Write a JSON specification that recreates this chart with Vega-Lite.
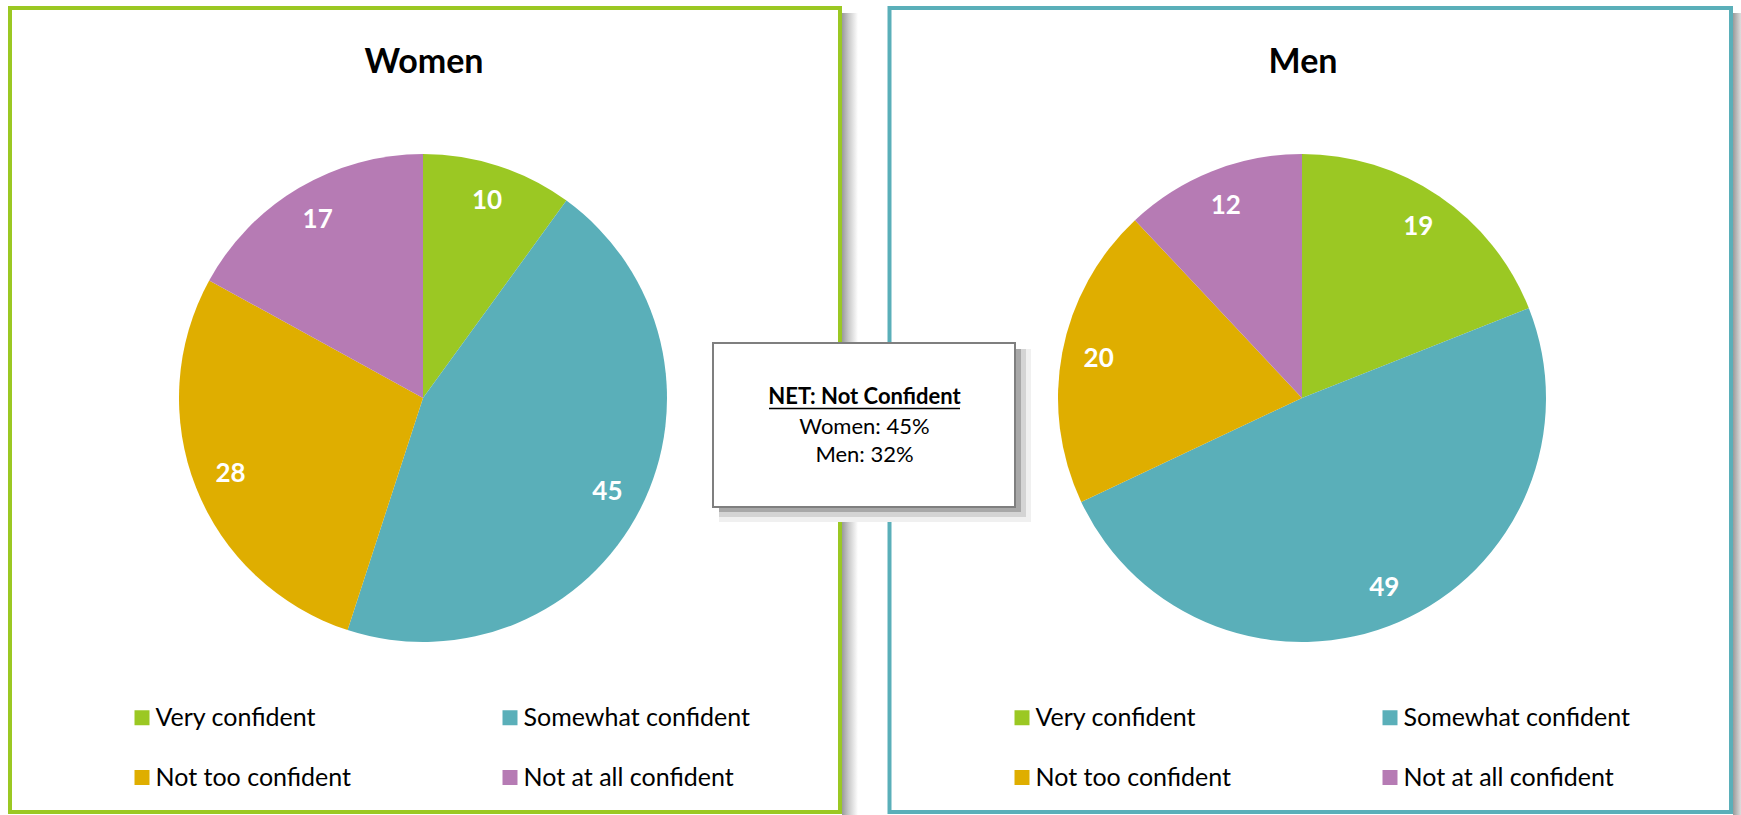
{
  "$schema": "https://vega.github.io/schema/vega-lite/v6.json",
  "width": 1741,
  "height": 815,
  "padding": 0,
  "autosize": {"type": "fit", "contains": "padding"},
  "background": "white",
  "config": {"view": {"stroke": null}, "font": "Lato"},
  "datasets": {
    "pie": [
      {"group": "Women", "category": "Very confident", "k": 1, "value": 10},
      {"group": "Women", "category": "Somewhat confident", "k": 2, "value": 45},
      {"group": "Women", "category": "Not too confident", "k": 3, "value": 28},
      {"group": "Women", "category": "Not at all confident", "k": 4, "value": 17},
      {"group": "Men", "category": "Very confident", "k": 1, "value": 19},
      {"group": "Men", "category": "Somewhat confident", "k": 2, "value": 49},
      {"group": "Men", "category": "Not too confident", "k": 3, "value": 20},
      {"group": "Men", "category": "Not at all confident", "k": 4, "value": 12}
    ],
    "one": [{"id": 1}]
  },
  "data": {"name": "pie"},
  "layer": [
    {
      "data": {"name": "one"},
      "mark": {"type": "rect", "fill": {"gradient": "linear", "x1": 0, "x2": 1, "y1": 0, "y2": 0, "stops": [{"offset": 0, "color": "#9a9a9a"}, {"offset": 0.4, "color": "#c8c8c8"}, {"offset": 1, "color": "#ffffff"}]}},
      "encoding": {
        "x": {"datum": 842, "type": "quantitative", "scale": {"domain": [0, 1741], "nice": false, "zero": false}, "axis": null},
        "x2": {"datum": 858},
        "y": {"datum": 13, "type": "quantitative", "scale": {"domain": [0, 815], "nice": false, "zero": false, "reverse": true}, "axis": null},
        "y2": {"datum": 815}
      }
    },
    {
      "data": {"name": "one"},
      "mark": {"type": "rect", "fill": {"gradient": "linear", "x1": 0, "x2": 1, "y1": 0, "y2": 0, "stops": [{"offset": 0, "color": "#9a9a9a"}, {"offset": 1, "color": "#dddddd"}]}},
      "encoding": {
        "x": {"datum": 1733, "type": "quantitative", "axis": null},
        "x2": {"datum": 1741},
        "y": {"datum": 13, "type": "quantitative", "axis": null},
        "y2": {"datum": 815}
      }
    },
    {
      "data": {"name": "one"},
      "mark": {"type": "rect", "filled": false, "stroke": "#9BC823", "strokeWidth": 4},
      "encoding": {
        "x": {"datum": 10, "type": "quantitative", "axis": null},
        "x2": {"datum": 840},
        "y": {"datum": 8, "type": "quantitative", "axis": null},
        "y2": {"datum": 812}
      }
    },
    {
      "data": {"name": "one"},
      "mark": {"type": "rect", "filled": false, "stroke": "#5AAFB9", "strokeWidth": 4},
      "encoding": {
        "x": {"datum": 889.5, "type": "quantitative", "axis": null},
        "x2": {"datum": 1731},
        "y": {"datum": 8, "type": "quantitative", "axis": null},
        "y2": {"datum": 812}
      }
    },
    {
      "data": {"values": [{"t": "Women"}]},
      "mark": {"type": "text", "fontSize": 34, "fontWeight": "bold", "color": "black", "align": "center", "baseline": "middle"},
      "encoding": {
        "x": {"datum": 424, "type": "quantitative", "axis": null},
        "y": {"datum": 63, "type": "quantitative", "axis": null},
        "text": {"field": "t"}
      }
    },
    {
      "data": {"values": [{"t": "Men"}]},
      "mark": {"type": "text", "fontSize": 34, "fontWeight": "bold", "color": "black", "align": "center", "baseline": "middle"},
      "encoding": {
        "x": {"datum": 1303, "type": "quantitative", "axis": null},
        "y": {"datum": 63, "type": "quantitative", "axis": null},
        "text": {"field": "t"}
      }
    },
    {
      "transform": [{"filter": "datum.group === 'Women'"}],
      "mark": {"type": "arc", "outerRadius": 244},
      "encoding": {
        "x": {"datum": 423, "type": "quantitative", "axis": null},
        "y": {"datum": 398, "type": "quantitative", "axis": null},
        "theta": {"field": "value", "type": "quantitative", "stack": true},
        "color": {
          "field": "category", "type": "nominal",
          "sort": {"field": "k", "op": "min"},
          "scale": {"range": ["#9BC823", "#5AAFB9", "#DFAE00", "#B67BB4"]},
          "legend": {"orient": "none", "legendX": 129.5, "legendY": 705, "direction": "horizontal", "columns": 2, "title": null, "symbolType": "square", "symbolSize": 225, "symbolStrokeWidth": 0, "labelFontSize": 25, "labelFont": "Lato", "labelColor": "#000000", "labelOffset": 1, "columnPadding": 146, "rowPadding": 34, "labelLimit": 400}
        },
        "order": {"field": "k", "type": "quantitative"}
      }
    },
    {
      "transform": [{"filter": "datum.group === 'Women'"}],
      "mark": {"type": "text", "radius": 207, "fontSize": 26, "fontWeight": "bold", "fill": "white", "align": "center", "baseline": "middle"},
      "encoding": {
        "x": {"datum": 423, "type": "quantitative", "axis": null},
        "y": {"datum": 398, "type": "quantitative", "axis": null},
        "theta": {"field": "value", "type": "quantitative", "stack": true},
        "detail": {"field": "category"},
        "order": {"field": "k", "type": "quantitative"},
        "text": {"field": "value", "type": "quantitative"}
      }
    },
    {
      "transform": [{"filter": "datum.group === 'Men'"}],
      "mark": {"type": "arc", "outerRadius": 244},
      "encoding": {
        "x": {"datum": 1302, "type": "quantitative", "axis": null},
        "y": {"datum": 398, "type": "quantitative", "axis": null},
        "theta": {"field": "value", "type": "quantitative", "stack": true},
        "fill": {
          "field": "category", "type": "nominal",
          "sort": {"field": "k", "op": "min"},
          "scale": {"range": ["#9BC823", "#5AAFB9", "#DFAE00", "#B67BB4"]},
          "legend": {"orient": "none", "legendX": 1009.5, "legendY": 705, "direction": "horizontal", "columns": 2, "title": null, "symbolType": "square", "symbolSize": 225, "symbolStrokeWidth": 0, "labelFontSize": 25, "labelFont": "Lato", "labelColor": "#000000", "labelOffset": 1, "columnPadding": 146, "rowPadding": 34, "labelLimit": 400}
        },
        "order": {"field": "k", "type": "quantitative"}
      }
    },
    {
      "transform": [{"filter": "datum.group === 'Men'"}],
      "mark": {"type": "text", "radius": 207, "fontSize": 26, "fontWeight": "bold", "fill": "white", "align": "center", "baseline": "middle"},
      "encoding": {
        "x": {"datum": 1302, "type": "quantitative", "axis": null},
        "y": {"datum": 398, "type": "quantitative", "axis": null},
        "theta": {"field": "value", "type": "quantitative", "stack": true},
        "detail": {"field": "category"},
        "order": {"field": "k", "type": "quantitative"},
        "text": {"field": "value", "type": "quantitative"}
      }
    },
    {
      "data": {"name": "one"},
      "mark": {"type": "rect", "fill": "#f0f0f0"},
      "encoding": {
        "x": {"datum": 719, "type": "quantitative", "axis": null},
        "x2": {"datum": 1031},
        "y": {"datum": 349, "type": "quantitative", "axis": null},
        "y2": {"datum": 522}
      }
    },
    {
      "data": {"name": "one"},
      "mark": {"type": "rect", "fill": "#d4d4d4"},
      "encoding": {
        "x": {"datum": 719, "type": "quantitative", "axis": null},
        "x2": {"datum": 1026},
        "y": {"datum": 349, "type": "quantitative", "axis": null},
        "y2": {"datum": 517}
      }
    },
    {
      "data": {"name": "one"},
      "mark": {"type": "rect", "fill": "#a8a8a8"},
      "encoding": {
        "x": {"datum": 719, "type": "quantitative", "axis": null},
        "x2": {"datum": 1021},
        "y": {"datum": 349, "type": "quantitative", "axis": null},
        "y2": {"datum": 512}
      }
    },
    {
      "data": {"name": "one"},
      "mark": {"type": "rect", "fill": "white", "stroke": "#7f7f7f", "strokeWidth": 2},
      "encoding": {
        "x": {"datum": 713, "type": "quantitative", "axis": null},
        "x2": {"datum": 1015},
        "y": {"datum": 343, "type": "quantitative", "axis": null},
        "y2": {"datum": 507}
      }
    },
    {
      "data": {"values": [{"t": "NET: Not Confident"}]},
      "mark": {"type": "text", "fontSize": 22, "fontWeight": "bold", "color": "black", "align": "center", "baseline": "middle"},
      "encoding": {
        "x": {"datum": 864.5, "type": "quantitative", "axis": null},
        "y": {"datum": 397, "type": "quantitative", "axis": null},
        "text": {"field": "t"}
      }
    },
    {
      "data": {"name": "one"},
      "mark": {"type": "rule", "color": "black", "strokeWidth": 1.5},
      "encoding": {
        "x": {"datum": 769, "type": "quantitative", "axis": null},
        "x2": {"datum": 960},
        "y": {"datum": 408.5, "type": "quantitative", "axis": null}
      }
    },
    {
      "data": {"values": [{"t": "Women: 45%"}]},
      "mark": {"type": "text", "fontSize": 22, "color": "black", "align": "center", "baseline": "middle"},
      "encoding": {
        "x": {"datum": 864.5, "type": "quantitative", "axis": null},
        "y": {"datum": 427, "type": "quantitative", "axis": null},
        "text": {"field": "t"}
      }
    },
    {
      "data": {"values": [{"t": "Men: 32%"}]},
      "mark": {"type": "text", "fontSize": 22, "color": "black", "align": "center", "baseline": "middle"},
      "encoding": {
        "x": {"datum": 864.5, "type": "quantitative", "axis": null},
        "y": {"datum": 455, "type": "quantitative", "axis": null},
        "text": {"field": "t"}
      }
    }
  ]
}
